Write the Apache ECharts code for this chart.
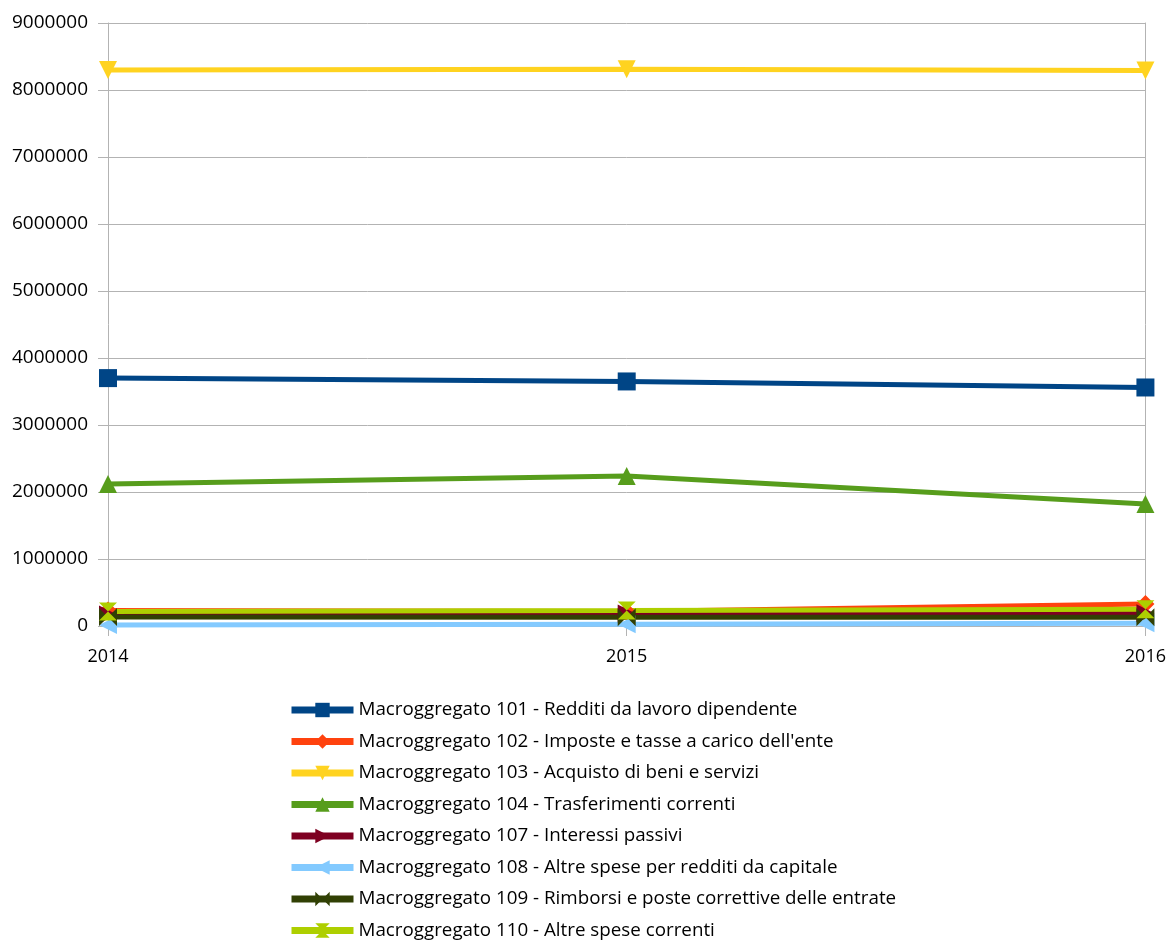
<!DOCTYPE html>
<html>
<head>
<meta charset="utf-8">
<script src="https://cdn.jsdelivr.net/npm/echarts@6/dist/echarts.min.js"></script>
<style>
html,body{margin:0;padding:0;background:#fff;}
#chart{width:1169px;height:940px;}
</style>
</head>
<body>
<div id="chart"></div>
<script>
const years = ['2014', '2015', '2016'];
const names = [
  'Macroggregato 101 - Redditi da lavoro dipendente',
  "Macroggregato 102 - Imposte e tasse a carico dell'ente",
  'Macroggregato 103 - Acquisto di beni e servizi',
  'Macroggregato 104 - Trasferimenti correnti',
  'Macroggregato 107 - Interessi passivi',
  'Macroggregato 108 - Altre spese per redditi da capitale',
  'Macroggregato 109 - Rimborsi e poste correttive delle entrate',
  'Macroggregato 110 - Altre spese correnti'
];
const m101 = [3700000, 3650000, 3560000];
const m102 = [230000, 215000, 330000];
const m103 = [8300000, 8310000, 8290000];
const m104 = [2120000, 2240000, 1820000];
const m107 = [170000, 185000, 190000];
const m108 = [15000, 25000, 40000];
const m109 = [135000, 130000, 130000];
const m110 = [215000, 230000, 250000];
const yTicks = [0, 1000000, 2000000, 3000000, 4000000, 5000000, 6000000, 7000000, 8000000, 9000000];

const colors = ['#004586', '#ff420e', '#ffd320', '#579d1c', '#7e0021', '#83caff', '#314004', '#aecf00'];
const symbols = [
  'rect',
  'diamond',
  'path://M0,0 L10,0 L5,10 Z',
  'path://M5,0 L10,10 L0,10 Z',
  'path://M0,0 L10,5 L0,10 Z',
  'path://M10,0 L0,5 L10,10 Z',
  'path://M0,0 L5,5 L0,10 Z M10,0 L10,10 L5,5 Z',
  'path://M0,0 L10,0 L5,5 Z M5,5 L10,10 L0,10 Z'
];
const dataSets = [m101, m102, m103, m104, m107, m108, m109, m110];
const FONT = 'Open Sans';

const chart = echarts.init(document.getElementById('chart'), null, {renderer: 'canvas'});
const series = dataSets.map((d, i) => ({
  name: names[i],
  type: 'line',
  data: d,
  symbol: symbols[i],
  symbolSize: 18,
  showSymbol: true,
  lineStyle: {width: 5, color: colors[i]},
  itemStyle: {color: colors[i], borderWidth: 0},
  emphasis: {disabled: true},
  animation: false
}));

const legends = names.map((n, i) => ({
  orient: 'vertical',
  left: 288,
  top: 700 + i * 31.5,
  padding: 0,
  itemWidth: 62,
  itemHeight: 18,
  textStyle: {fontSize: 18.8, color: '#000', fontFamily: FONT, lineHeight: 20},
  lineStyle: {width: 7},
  selectedMode: false,
  data: [n]
}));

chart.setOption({
  animation: false,
  color: colors,
  textStyle: {fontFamily: FONT},
  grid: {left: 108, right: 21, top: 23, bottom: 314, containLabel: false},
  xAxis: {
    type: 'category',
    data: years,
    boundaryGap: false,
    axisLine: {show: true, lineStyle: {color: '#b3b3b3', width: 1}},
    axisTick: {show: true, length: 10, lineStyle: {color: '#b3b3b3'}},
    axisLabel: {color: '#000', fontSize: 18, fontFamily: FONT, margin: 22}
  },
  yAxis: [{
    type: 'value',
    min: yTicks[0],
    max: yTicks[yTicks.length - 1],
    interval: 1000000,
    axisLine: {show: true, lineStyle: {color: '#b3b3b3', width: 1}},
    axisTick: {show: true, length: 10, lineStyle: {color: '#b3b3b3'}},
    splitLine: {show: true, lineStyle: {color: '#b3b3b3', width: 1}},
    axisLabel: {color: '#000', fontSize: 19, fontFamily: FONT, margin: 20, formatter: v => String(v)}
  }, {
    type: 'value',
    position: 'right',
    min: yTicks[0],
    max: yTicks[yTicks.length - 1],
    interval: 1000000,
    axisLine: {show: true, lineStyle: {color: '#b3b3b3', width: 1}},
    axisTick: {show: false},
    splitLine: {show: false},
    axisLabel: {show: false}
  }],
  legend: legends,
  series: series
});
</script>
</body>
</html>
